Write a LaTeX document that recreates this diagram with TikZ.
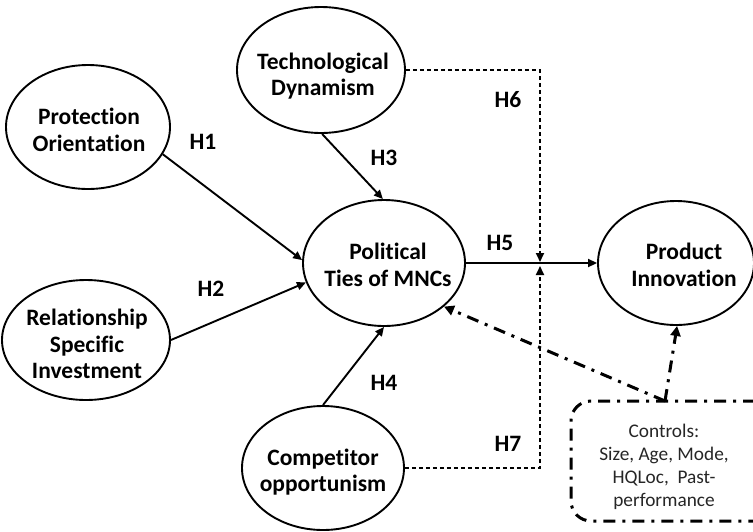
\documentclass[tikz,border=0pt]{standalone}
\usepackage{fontspec}
\setmainfont{Carlito}[Ligatures=CommonOff]
\usetikzlibrary{shapes.geometric,arrows.meta}
\tikzset{
  ell/.style={draw, ellipse, line width=1.9pt, inner sep=0pt},
  lab/.style={font=\bfseries\fontsize{23.5}{26.8}\selectfont, align=center, inner sep=0pt},
  hlab/.style={font=\bfseries\fontsize{23.5}{26.8}\selectfont, inner sep=0pt},
  arr/.style={line width=1.9pt, -{Triangle[length=9pt,width=8pt]}},
  dsh/.style={line width=1.9pt, dash pattern=on 4.5pt off 2.5pt},
  dsharr/.style={dsh, -{Triangle[length=9pt,width=8pt]}},
  dd/.style={line width=3pt, dash pattern=on 12pt off 7pt on 3pt off 7pt},
  ddarr/.style={dd, -{Triangle[length=10pt,width=10pt]}},
}
\begin{document}
\begin{tikzpicture}[x=1pt,y=-1pt]
\useasboundingbox (0,0) rectangle (753,531);
% ellipses
\node[ell, minimum width=168pt, minimum height=126pt] (tech) at (321,70) {};
\node[lab] (techt) at (323,76) {Technological\\Dynamism};
\node[ell, minimum width=164pt, minimum height=124pt] (po) at (88,127) {};
\node[lab] (pot) at (89,130) {Protection\\Orientation};
\node[ell, minimum width=168pt, minimum height=120pt] (rsi) at (86,340) {};
\node[lab] (rsit) at (87,344) {Relationship\\Specific\\Investment};
\node[ell, minimum width=162pt, minimum height=126pt] (pt) at (384,263) {};
\node[lab] (ptt) at (388,265) {Political\\Ties of MNCs};
\node[ell, minimum width=156pt, minimum height=124pt] (pi) at (676,263) {};
\node[lab] (pit) at (684,265) {Product\\Innovation};
\node[ell, minimum width=162pt, minimum height=124pt] (co) at (323,468) {};
\node[lab] (cot) at (323,472) {Competitor\\opportunism};
% controls box
\node[draw, dd, rounded corners=20pt, minimum width=204pt, minimum height=120pt, inner sep=0pt] (ctrl) at (673,461) {};
\node[font=\fontsize{19.3}{23}\selectfont, align=center, text=black!85, inner sep=0pt] (ctrlt) at (664,467) {Controls:\\Size, Age, Mode,\\HQLoc,\ \ Past-\\performance};
% solid arrows
\draw[arr] (po.-20) -- (pt.178);
\draw[arr] (rsi.0) -- (pt.194);
\draw[arr] (tech.-89) -- (pt.91);
\draw[arr] (co.90) -- (pt.-90);
\draw[arr] (pt.0) -- (pi.180);
% moderating dashed lines
\coordinate (m6) at (540,262);
\coordinate (m7) at (540,266);
\draw[dsharr] (tech.0) -- (tech.0 -| m6) -- (m6);
\draw[dsharr] (co.0) -- (co.0 -| m7) -- (m7);
% controls arrows
\coordinate (cs) at (665,401);
\draw[ddarr] (cs) -- (pt.-36);
\draw[ddarr] (cs) -- (pi.-89);
% labels
\node[hlab] (h1) at (203,142) {H1};
\node[hlab] (h2) at (211,289) {H2};
\node[hlab] (h3) at (384,158) {H3};
\node[hlab] (h4) at (384,383) {H4};
\node[hlab] (h5) at (500,243) {H5};
\node[hlab] (h6) at (508,100) {H6};
\node[hlab] (h7) at (508,444) {H7};
\end{tikzpicture}
\end{document}
